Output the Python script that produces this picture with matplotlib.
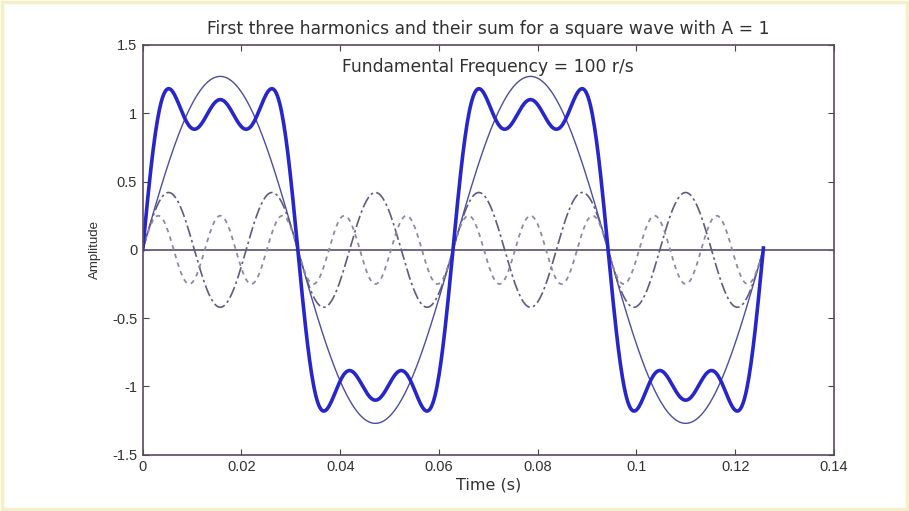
import numpy as np
import matplotlib.pyplot as plt
from matplotlib.patches import Rectangle

plt.rcParams['font.family'] = ['Liberation Sans', 'DejaVu Sans']

# series parameters
harmonics = [1, 3, 5]
amplitudes = [1.27, 0.42, 0.25]
w0 = 100.0          # rad/s
t_end = 0.1257      # two periods
xticks = [0, 0.02, 0.04, 0.06, 0.08, 0.1, 0.12, 0.14]
xticklabels = ['0', '0.02', '0.04', '0.06', '0.08', '0.1', '0.12', '0.14']
yticks = [-1.5, -1, -0.5, 0, 0.5, 1, 1.5]
yticklabels = ['-1.5', '-1', '-0.5', '0', '0.5', '1', '1.5']

t = np.linspace(0, t_end, 600)
waves = [a*np.sin(n*w0*t) for n, a in zip(harmonics, amplitudes)]
total = waves[0] + waves[1] + waves[2]

fig = plt.figure(figsize=(9.09, 5.11), dpi=100)
fig.patches.append(Rectangle((0.002, 0.004), 0.996, 0.992, transform=fig.transFigure,
                             fill=False, edgecolor='#f4efc4', lw=2.5))
ax = fig.add_axes([0.157, 0.11, 0.7605, 0.802])

ax.axhline(0, color='#6a5a78', lw=1.3)
ax.plot(t, waves[0], color='#4c4ca4', lw=1.0)
ax.plot(t, waves[1], color='#5c5c80', lw=1.2, ls=(0, (7, 2, 1.5, 2)))
ax.plot(t, waves[2], color='#8a8aa8', lw=1.3, ls=(0, (2.5, 2.5)))
ax.plot(t, total, color='#2626cc', lw=2.6)

ax.set_xlim(0, 0.14)
ax.set_ylim(-1.5, 1.5)
ax.set_xticks(xticks, xticklabels)
ax.set_yticks(yticks, yticklabels)
ax.tick_params(direction='in', length=4, top=True, right=True, labelsize=10.5,
               color='#504050', labelcolor='#303030', pad=4)
for s in ax.spines.values():
    s.set_color('#5a4a5a')
    s.set_linewidth(1.2)

ax.set_title('First three harmonics and their sum for a square wave with A = 1',
             fontsize=12.3, color='#303030', pad=8, family='DejaVu Sans')
ax.text(0.5, 0.968, 'Fundamental Frequency = 100 r/s', transform=ax.transAxes,
        ha='center', va='top', fontsize=12.3, color='#303030', family='DejaVu Sans')
ax.set_xlabel('Time (s)', fontsize=11.5, color='#303030', labelpad=2, family='DejaVu Sans')
ax.set_ylabel('Amplitude', fontsize=9.5, color='#303030', labelpad=8)

fig.savefig('out.png', dpi=100)
